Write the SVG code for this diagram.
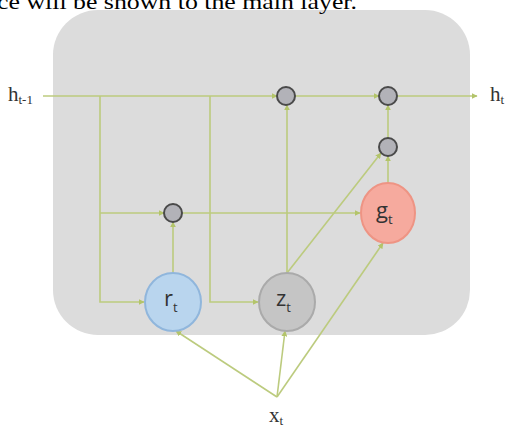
<svg xmlns="http://www.w3.org/2000/svg" width="505" height="430" viewBox="0 0 505 430">
<defs>
<marker id="ah" viewBox="0 0 10 10" refX="9" refY="5" markerWidth="6" markerHeight="6" orient="auto" markerUnits="userSpaceOnUse">
<path d="M0,0 L10,5 L0,10 z" fill="#b3c46a"/>
</marker>
<style>
.cn{fill:none;stroke:#bccb7e;stroke-width:1.6}
.op{fill:#b2b2b8;stroke:#4a4a4a;stroke-width:2}
.lab{font-family:"Liberation Serif",serif;font-size:21px;fill:#333}
.gl{font-family:"Open Sans","DejaVu Sans",sans-serif;font-size:22px;fill:#333}
.sub{font-size:13px}
</style>
</defs>
<rect width="505" height="430" fill="#ffffff"/>
<rect id="cell" x="53" y="10" width="417" height="325" rx="45" ry="45" fill="#dcdcdc"/>
<text x="-3" y="9" font-family="Liberation Serif,serif" font-size="22" textLength="360" lengthAdjust="spacingAndGlyphs" fill="#000">ce will be shown to the main layer.</text>
<g id="connectors">
<path class="cn" d="M43,96 L277,96" marker-end="url(#ah)"/>
<path class="cn" d="M295,96 L379,96" marker-end="url(#ah)"/>
<path class="cn" d="M397,96 L477,96" marker-end="url(#ah)"/>
<path class="cn" d="M100,96 L100,302 L144,302" marker-end="url(#ah)"/>
<path class="cn" d="M100,213 L164,213" marker-end="url(#ah)"/>
<path class="cn" d="M210,96 L210,302 L258,302" marker-end="url(#ah)"/>
<path class="cn" d="M182,213 L360,213" marker-end="url(#ah)"/>
<path class="cn" d="M173,273 L173,222" marker-end="url(#ah)"/>
<path class="cn" d="M287,273 L287,105" marker-end="url(#ah)"/>
<path class="cn" d="M287,273 L381,153" marker-end="url(#ah)"/>
<path class="cn" d="M388,183 L388,156" marker-end="url(#ah)"/>
<path class="cn" d="M388,138 L388,105" marker-end="url(#ah)"/>
<path class="cn" d="M277,397 L176,331" marker-end="url(#ah)"/>
<path class="cn" d="M277,397 L285,331" marker-end="url(#ah)"/>
<path class="cn" d="M277,397 L383,243" marker-end="url(#ah)"/>
</g>
<g id="op1"><circle class="op" cx="286" cy="96" r="9"/></g>
<g id="op2"><circle class="op" cx="388" cy="96" r="9"/></g>
<g id="op3"><circle class="op" cx="388" cy="147" r="9"/></g>
<g id="op4"><circle class="op" cx="173" cy="213" r="9"/></g>
<g id="rt">
<ellipse cx="173" cy="302" rx="28" ry="29" fill="#b9d5ee" stroke="#90b6dc" stroke-width="2"/>
<text class="gl" x="164" y="306">r<tspan class="sub" dy="6">t</tspan></text>
</g>
<g id="zt">
<ellipse cx="287" cy="302" rx="28" ry="29" fill="#c5c5c5" stroke="#aaaaaa" stroke-width="2"/>
<text class="gl" x="276" y="306">z<tspan class="sub" dy="6">t</tspan></text>
</g>
<g id="gt">
<ellipse cx="388" cy="213" rx="27" ry="30" fill="#f6aa9e" stroke="#ee9484" stroke-width="2"/>
<text class="gl" x="376" y="218">g<tspan class="sub" dy="6">t</tspan></text>
</g>
<g id="labels">
<text class="lab" x="8" y="101">h<tspan font-size="13" dy="3">t-1</tspan></text>
<text class="lab" x="490" y="101">h<tspan font-size="13" dy="3">t</tspan></text>
<text class="lab" x="269" y="422">x<tspan font-size="13" dy="3">t</tspan></text>
</g>
</svg>
